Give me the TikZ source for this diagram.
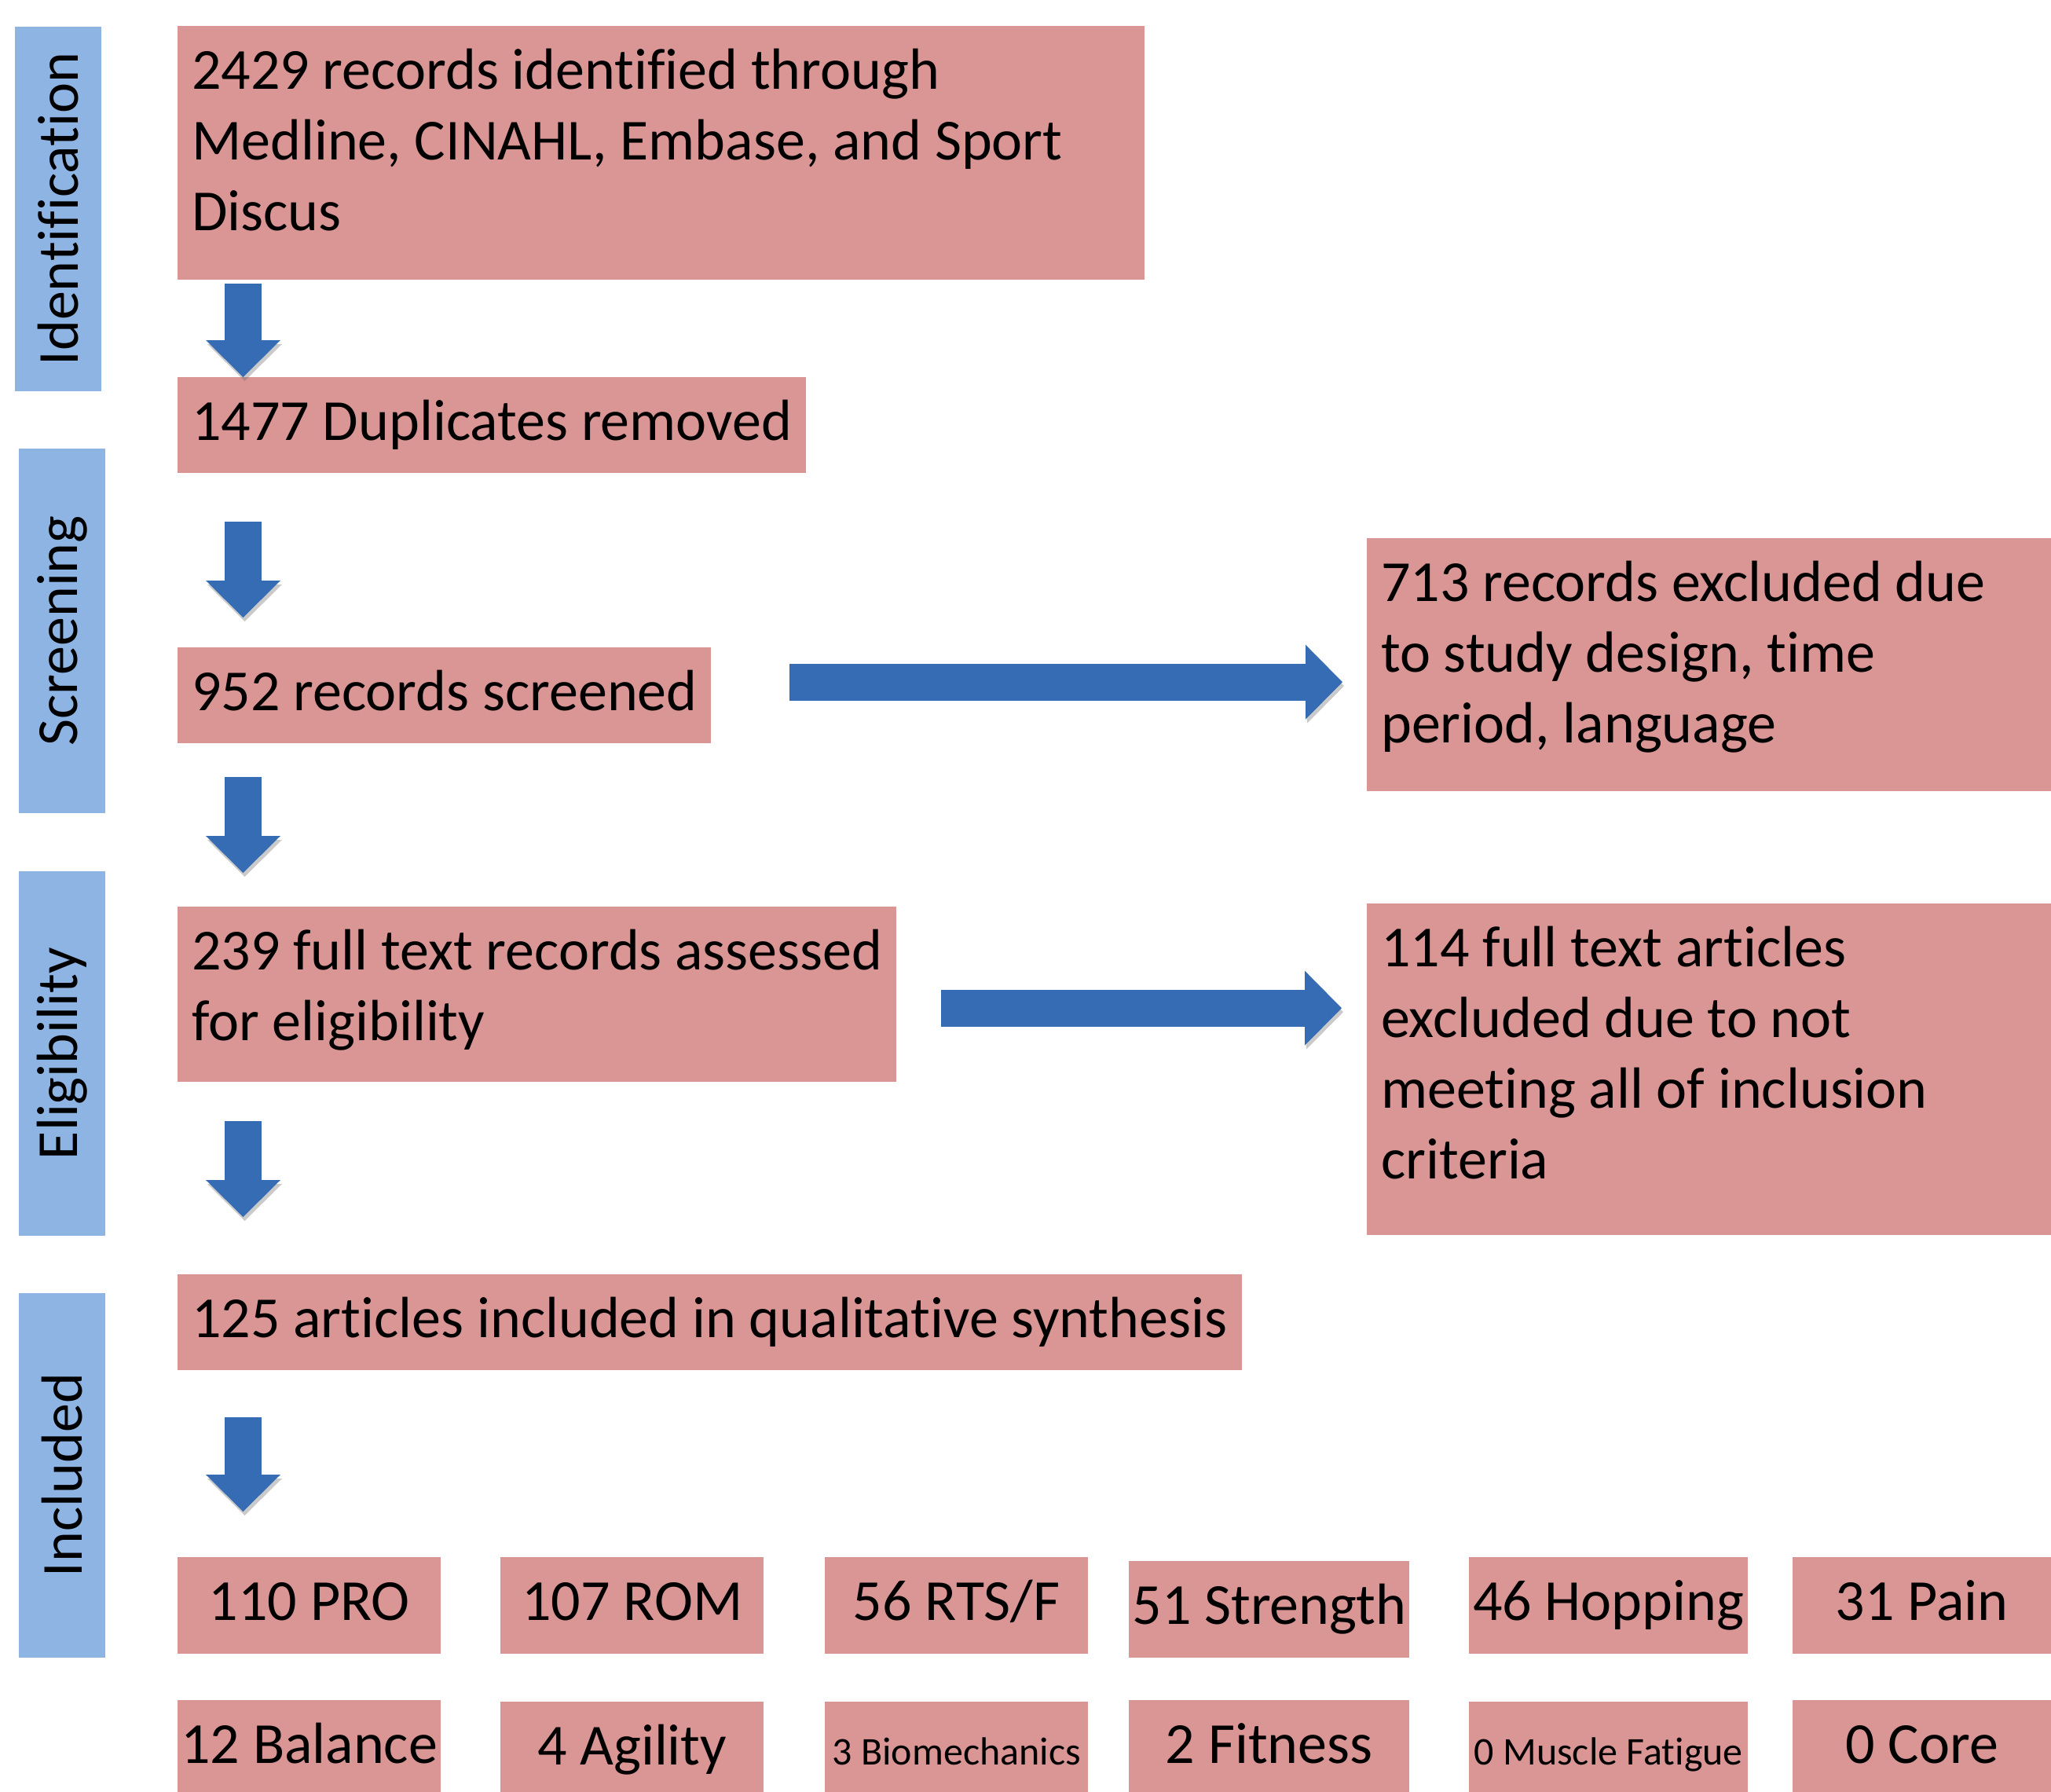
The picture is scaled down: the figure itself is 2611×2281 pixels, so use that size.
\documentclass[tikz,border=0pt]{standalone}
\usepackage{fontspec}
\setmainfont{Carlito}[Ligatures={NoCommon,NoContextual}, RawFeature={-calt}]
\usepackage{xcolor}
\usepackage{tikz}
\usetikzlibrary{arrows.meta}

\definecolor{stagered}{RGB}{217,150,148}
\definecolor{phaseblue}{RGB}{142,180,227}
\definecolor{arrowblue}{RGB}{54,108,180}

\newcommand{\flowfont}{\fontsize{74}{90}\selectfont}
\newcommand{\smallflowfont}{\fontsize{50}{61}\selectfont}

\begin{document}
\begin{tikzpicture}[x=1pt, y=-1pt,
    phase/.style={fill=phaseblue, rotate=90, minimum width=464pt, minimum height=110pt, inner sep=0pt, font=\flowfont},
    stage/.style={fill=stagered, anchor=north west, inner xsep=18pt, inner ysep=0pt, text height=80pt, align=flush left, font=\flowfont},
    result/.style={fill=stagered, anchor=north west, inner sep=0pt, text height=80pt, text depth=43pt, font=\flowfont},
    flow/.style={draw=arrowblue, line width=47pt, -{Triangle[width=95pt, length=47pt, line width=0pt]},
        preaction={draw=black!60, opacity=0.35, transform canvas={xshift=2pt, yshift=-5pt}}}]
        \useasboundingbox (0,0) rectangle (2611,2281);

        % phases on the left
        \node[phase] (identification) at (74,266) {Identification};
        \node[phase] (screening) at (79,803) {Screening};
        \node[phase] (eligibility) at (79,1341) {Eligibility};
        \node[phase] (included) at (79,1877.5) {Included};

        % main column
        \node[stage, text width=1195pt, text depth=243pt] (records) at (226,33) {2429 records identified through\\ Medline, CINAHL, Embase, and Sport\\ Discus};
        \node[stage, text depth=42pt] (duplicates) at (226,480) {1477 Duplicates removed};
        \node[stage, text depth=42pt] (screened) at (226,824) {952 records screened};
        \node[stage, text width=879pt, text depth=143pt] (assessed) at (226,1154) {239 full text records assessed\\ for eligibility};
        \node[stage, text depth=42pt] (synthesis) at (226,1622) {125 articles included in qualitative synthesis};

        % exclusions
        \node[stage, text width=835pt, text depth=242pt] (excluded) at (1740,685) {713 records excluded due\\ to study design, time\\ period, language};
        \node[stage, text width=835pt, text depth=342pt] (notmet) at (1740,1150) {114 full text articles\\ excluded due to not\\ meeting all of inclusion\\ criteria};

        % outcomes
        \node[result, minimum width=335pt] (pro) at (226,1982) {110 PRO};
        \node[result, minimum width=335pt] (rom) at (637,1982) {107 ROM};
        \node[result, minimum width=335pt] (rts) at (1050,1982) {56 RTS/F};
        \node[result, minimum width=357pt] (strength) at (1437,1987) {51 Strength};
        \node[result, minimum width=355pt] (hopping) at (1870,1982) {46 Hopping};
        \node[result, minimum width=329pt] (pain) at (2282,1982) {31 Pain};
        \node[result, minimum width=335pt, text depth=37pt] (balance) at (226,2164) {12 Balance};
        \node[result, minimum width=335pt, text depth=35pt] (agility) at (637,2166) {4 Agility};
        \node[result, minimum width=335pt, text depth=35pt, font=\smallflowfont] (biomech) at (1050,2166) {3 Biomechanics};
        \node[result, minimum width=357pt, text depth=37pt] (fitness) at (1437,2164) {2 Fitness};
        \node[result, minimum width=355pt, text depth=35pt, font=\smallflowfont] (fatigue) at (1870,2166) {0 Muscle Fatigue};
        \node[result, minimum width=329pt, text depth=37pt] (core) at (2282,2164) {0 Core};

        % arrows
        \draw[flow, shorten <=5pt] ([xshift=83.5pt]records.south west) -- ([xshift=83.5pt]duplicates.north west);
        \draw[flow, shorten <=62pt, shorten >=38pt] ([xshift=83.5pt]duplicates.south west) -- ([xshift=83.5pt]screened.north west);
        \draw[flow, shorten <=43pt, shorten >=43pt] ([xshift=83.5pt]screened.south west) -- ([xshift=83.5pt]assessed.north west);
        \draw[flow, shorten <=50pt, shorten >=73pt] ([xshift=83.5pt]assessed.south west) -- ([xshift=83.5pt]synthesis.north west);
        \draw[flow, shorten <=60pt, shorten >=58pt] ([xshift=83.5pt]synthesis.south west) -- ([xshift=83.5pt]pro.north west);
        \coordinate (screenout) at ([yshift=17pt]screened.east);
        \draw[flow, shorten <=99pt, shorten >=31pt] (screenout) -- (screenout -| excluded.west);
        \coordinate (assessout) at ([yshift=-17.5pt]assessed.east);
        \draw[flow, shorten <=57pt, shorten >=32pt] (assessout) -- (assessout -| notmet.west);
\end{tikzpicture}
\end{document}
